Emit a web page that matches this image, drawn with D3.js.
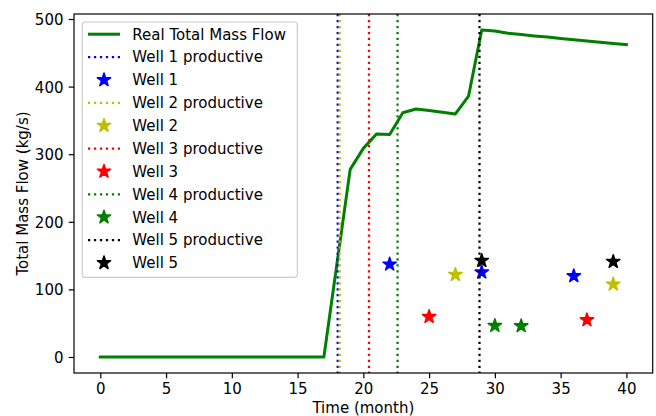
<!DOCTYPE html>
<html>
<head>
<meta charset="utf-8">
<script src="https://cdn.jsdelivr.net/npm/d3@7"></script>
<style>
  body { margin: 0; background: #fff; }
  svg { display: block; font-family: "DejaVu Sans", sans-serif; }
</style>
</head>
<body>
<svg class="chart_flow"></svg>
<script>
// monthly total mass flow (kg/s)
const months = [0,1,2,3,4,5,6,7,8,9,10,11,12,13,14,15,16,17,18,19,20,
  21,22,23,24,25,26,27,28,29,30,31,32,33,34,35,36,37,38,39,40];
const totalFlow = [0,0,0,0,0,0,0,0,0,0,0,0,0,0,0,0,0,0,139,277.6,308.6,
  330,329,361.4,366.9,364.5,362,359.5,386,483.7,482.2,478.8,476.9,475,473.2,471.3,469.4,467.5,465.6,463.8,462];

const wellNames = ['Well 1', 'Well 2', 'Well 3', 'Well 4', 'Well 5'];
const wellColors = ['#0000ff', '#bfbf00', '#ff0000', '#008000', '#000000'];
const wellProductive = [18.05, 18.2, 20.43, 22.6, 28.83];
const wellStarMonths = [[22, 29, 36], [27, 39], [25, 37], [30, 32], [29, 39]];
const wellStarFlows = [[137.1, 125.3, 119.8], [121.8, 107.5], [59.6, 54.7], [46.3, 45.9], [142.5, 141]];

const xTicks = [0, 5, 10, 15, 20, 25, 30, 35, 40];
const yTicks = [0, 100, 200, 300, 400, 500];

const drawChart = () => {
  const svgWidth = 656, svgHeight = 416;
  const left = 74, right = 652.7, top = 14, bottom = 373;
  const fontSize = 15;
  const lw = 2.25;
  const flowLw = 3;
  const dots = '2.25,3.71';

  var svg = d3.select('.chart_flow')
    .attr('width', svgWidth)
    .attr('height', svgHeight);

  var xScale = d3.scaleLinear().domain([-2, 42]).range([left, right]);
  var yScale = d3.scaleLinear().domain([-23.7, 507.4]).range([bottom, top]);

  var plot = svg.append('g');

  var flowLine = d3.line()
    .x((d, i) => xScale(months[i]))
    .y((d) => yScale(d));
  plot.append('path')
    .datum(totalFlow)
    .attr('d', flowLine)
    .attr('fill', 'none')
    .attr('stroke', '#008000')
    .attr('stroke-width', flowLw)
    .attr('stroke-linejoin', 'round')
    .attr('stroke-linecap', 'square');

  var star = d3.symbol().type(d3.symbolStar).size(7 * 7 / 0.8908130915292852);

  wellNames.forEach((name, w) => {
    plot.append('line')
      .attr('x1', xScale(wellProductive[w]))
      .attr('x2', xScale(wellProductive[w]))
      .attr('y1', top)
      .attr('y2', bottom)
      .attr('stroke', wellColors[w])
      .attr('stroke-width', lw)
      .attr('stroke-dasharray', dots);

    var pts = wellStarMonths[w].map((m, i) => ({ x: m, y: wellStarFlows[w][i] }));
    plot.selectAll('.star' + w)
      .data(pts)
      .enter()
      .append('path')
      .attr('class', 'star' + w)
      .attr('d', star)
      .attr('transform', (d) => 'translate(' + xScale(d.x) + ',' + yScale(d.y) + ')')
      .attr('fill', wellColors[w])
      .attr('stroke', wellColors[w])
      .attr('stroke-width', 1.5)
      .attr('stroke-linejoin', 'round');
  });

  // axes
  var xAxis = d3.axisBottom(xScale).tickValues(xTicks).tickSize(5.25).tickPadding(5.25);
  var gx = svg.append('g')
    .attr('transform', 'translate(0,' + bottom + ')')
    .call(xAxis);
  var yAxis = d3.axisLeft(yScale).tickValues(yTicks).tickSize(5.25).tickPadding(5.25);
  var gy = svg.append('g')
    .attr('transform', 'translate(' + left + ',0)')
    .call(yAxis);
  [gx, gy].forEach((g) => {
    g.select('.domain').remove();
    g.selectAll('.tick line').attr('stroke', '#000').attr('stroke-width', 1.2);
    g.selectAll('.tick text')
      .attr('fill', '#000')
      .attr('font-size', fontSize)
      .attr('font-family', 'DejaVu Sans');
  });
  gy.selectAll('.tick text').attr('dy', '0.36em');

  svg.append('rect')
    .attr('x', left)
    .attr('y', top)
    .attr('width', right - left)
    .attr('height', bottom - top)
    .attr('fill', 'none')
    .attr('stroke', '#000')
    .attr('stroke-width', 1.2);

  svg.append('text')
    .attr('x', (left + right) / 2)
    .attr('y', 413)
    .attr('text-anchor', 'middle')
    .attr('font-size', fontSize)
    .text('Time (month)');

  svg.append('text')
    .attr('transform', 'translate(27.5,' + ((top + bottom) / 2) + ') rotate(-90)')
    .attr('text-anchor', 'middle')
    .attr('font-size', fontSize)
    .text('Total Mass Flow (kg/s)');

  // legend
  var legend = svg.append('g');
  legend.append('rect')
    .attr('x', 82.3)
    .attr('y', 22)
    .attr('width', 215)
    .attr('height', 255.3)
    .attr('rx', 3)
    .attr('fill', '#fff')
    .attr('fill-opacity', 0.8)
    .attr('stroke', '#cccccc')
    .attr('stroke-width', 1.2);

  var entries = [{ label: 'Real Total Mass Flow', kind: 'line', color: '#008000' }];
  wellNames.forEach((name, w) => {
    entries.push({ label: name + ' productive', kind: 'dots', color: wellColors[w] });
    entries.push({ label: name, kind: 'star', color: wellColors[w] });
  });

  var rowH = 22.87, row0 = 34.2;
  entries.forEach((e, i) => {
    var cy = row0 + i * rowH;
    if (e.kind === 'star') {
      legend.append('path')
        .attr('d', star)
        .attr('transform', 'translate(104,' + cy + ')')
        .attr('fill', e.color)
        .attr('stroke', e.color)
        .attr('stroke-width', 1.5)
        .attr('stroke-linejoin', 'round');
    } else {
      legend.append('line')
        .attr('x1', 88)
        .attr('x2', 120)
        .attr('y1', cy)
        .attr('y2', cy)
        .attr('stroke', e.color)
        .attr('stroke-width', e.kind === 'dots' ? lw : flowLw)
        .attr('stroke-dasharray', e.kind === 'dots' ? dots : null);
    }
    legend.append('text')
      .attr('x', 132.3)
      .attr('y', cy)
      .attr('dy', '0.36em')
      .attr('font-size', fontSize)
      .text(e.label);
  });
};

document.addEventListener('DOMContentLoaded', drawChart, false);
</script>
</body>
</html>
